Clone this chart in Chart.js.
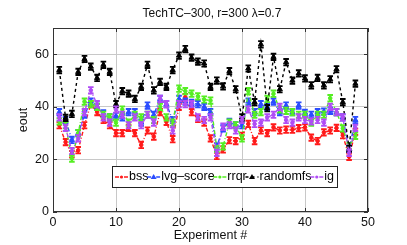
<!DOCTYPE html>
<html>
<head>
<meta charset="utf-8">
<script src="https://cdn.jsdelivr.net/npm/chart.js@4/dist/chart.umd.min.js"></script>
<style>
  html, body { margin: 0; padding: 0; background: #fff; }
  #wrap { width: 407px; height: 245px; }
</style>
</head>
<body>
<div id="wrap"><canvas id="c"></canvas></div>
<script>
/* ----- data ----- */
const experiments = [1,2,3,4,5,6,7,8,9,10,11,12,13,14,15,16,17,18,19,20,21,22,23,24,
                     25,26,27,28,29,30,31,32,33,34,35,36,37,38,39,40,41,42,43,44,45,46,47,48];

const bss      = [33,26.6,22,23.5,33,41,38,35,33,30,30,32,30,25.5,31,28.7,38,34.3,27.7,40,43.7,38,35.4,34,
                  28,21.3,23.8,27.3,27,29,33.5,27,31,30,32.2,31,31.3,31.3,31.9,32.2,28.3,27,30.3,31,32,29.2,21,30.5];
const lvgScore = [38,35,27.4,30,37,42,40,37.5,36,36.5,36,38,38,34,40.5,37,43,41,35,43,42,41.5,41,40,
                  38,25,31.8,34.3,33,33,42,38,41,40,42,38,40.5,38,40.5,37.7,37,38,38.2,38.5,38,36,24,35];
const rrqr     = [34.5,33,20.3,30,42,41,40,37,36,34,39,34,37,36,37,35,40,36,34,46.9,46,45,44,42.8,
                  42.4,24,25,34,33,28,46,37,38,43,45,39,38.5,38,37,37,34,37,37,43.3,38,31.8,25,29];
const randomfs = [54,35.8,37.3,53.3,58.2,55.3,51,56,53.3,41,46,45,43,47.6,56,46.3,49.5,47.6,54,59.5,62,58.7,57.2,56.5,
                  47.6,50,47.8,53.6,46.7,36,54.6,41.8,63.8,39.5,59,46.7,57,50,52.7,50.8,48.2,51,48.2,50.5,54.3,41.8,24,48.8];
const ig       = [36,32,23.2,28,38,46.3,41,36,34,39,37,33,36,33,37,34,43,41,31,41,41,41,36,35,
                  36,22.5,32.5,33,31,35,39,33.5,34,36,37,40,35,34,36,35,34.5,35,34,40,38,36,22.5,32];

const seriesNames = ['bss', 'lvg\u2013score', 'rrqr', 'randomfs', 'ig'];
const errHalf     = [1.2, 1.2, 1.2, 1.2, 1.2];   // error bar half height per series
const xTicks = [0, 10, 20, 30, 40, 50];
const yTicks = [0, 20, 40, 60];

/* ----- styles ----- */
const colors = ['#ff1a1a', '#2a4cff', '#55ee22', '#000000', '#b04cf5'];
const dashes = [[4,2,1,2], [4,2,1,2], [4,2,1,2], [3,3], [4,2,1,2]];
const marks  = ['circle', 'triangle', 'circle', 'triangle', 'circle'];
const FONT = '"Liberation Sans", Arial, sans-serif';

const values = [bss, lvgScore, rrqr, randomfs, ig];
const datasets = values.map((vals, k) => ({
  label: seriesNames[k],
  data: experiments.map((x, i) => ({x, y: vals[i]})),
  errors: errHalf[k],
  borderColor: colors[k],
  backgroundColor: colors[k],
  borderWidth: 1.4,
  borderDash: dashes[k],
  pointStyle: marks[k],
  pointRadius: marks[k] === 'triangle' ? 3 : 1.8,
  pointBorderWidth: 1,
  tension: 0,
  order: 4 - k
}));

/* error bars, drawn right after each dataset so layering follows it */
const errorBars = {
  id: 'errorBars',
  afterDatasetDraw(chart, args) {
    const ds = chart.data.datasets[args.index];
    const ys = chart.scales.y, ctx = chart.ctx;
    ctx.save();
    ctx.strokeStyle = ds.borderColor;
    ctx.lineWidth = 1.9;
    ctx.setLineDash([]);
    args.meta.data.forEach((pt, i) => {
      const v = ds.data[i].y;
      const top = ys.getPixelForValue(v + ds.errors);
      const bot = ys.getPixelForValue(v - ds.errors);
      ctx.beginPath();
      ctx.moveTo(pt.x, top); ctx.lineTo(pt.x, bot);
      ctx.moveTo(pt.x - 2.8, top); ctx.lineTo(pt.x + 2.8, top);
      ctx.moveTo(pt.x - 2.8, bot); ctx.lineTo(pt.x + 2.8, bot);
      ctx.stroke();
    });
    ctx.restore();
  }
};

function drawMark(ctx, style, x, y, color) {
  ctx.fillStyle = color;
  ctx.beginPath();
  if (style === 'triangle') {
    ctx.moveTo(x, y - 3); ctx.lineTo(x + 3, y + 2); ctx.lineTo(x - 3, y + 2);
    ctx.closePath();
  } else {
    ctx.arc(x, y, 1.6, 0, Math.PI * 2);
  }
  ctx.fill();
}

/* box, inward ticks, titles and the legend inside the axes */
const decorations = {
  id: 'decorations',
  afterDraw(chart) {
    const ctx = chart.ctx, a = chart.chartArea;
    const xs = chart.scales.x, ys = chart.scales.y;
    ctx.save();
    ctx.setLineDash([]);
    ctx.strokeStyle = '#333';
    ctx.lineWidth = 1;
    ctx.strokeRect(a.left + 0.5, a.top + 0.5, a.right - a.left - 1, a.bottom - a.top - 1);
    ctx.beginPath();
    xTicks.forEach(t => {
      const px = Math.round(xs.getPixelForValue(t)) + 0.5;
      ctx.moveTo(px, a.bottom); ctx.lineTo(px, a.bottom - 4);
      ctx.moveTo(px, a.top);    ctx.lineTo(px, a.top + 4);
    });
    yTicks.forEach(t => {
      const py = Math.round(ys.getPixelForValue(t)) + 0.5;
      ctx.moveTo(a.left, py);  ctx.lineTo(a.left + 4, py);
      ctx.moveTo(a.right, py); ctx.lineTo(a.right - 4, py);
    });
    ctx.stroke();

    ctx.fillStyle = '#111';
    ctx.font = '12px ' + FONT;
    ctx.textAlign = 'center';
    ctx.textBaseline = 'middle';
    ctx.fillText('TechTC\u2013300, r=300 \u03bb=0.7', 212, 14);
    ctx.font = '12.5px ' + FONT;
    ctx.fillText('Experiment #', (a.left + a.right) / 2, 236);
    ctx.save();
    ctx.translate(24, 120);
    ctx.rotate(-Math.PI / 2);
    ctx.fillText('eout', 0, 0);
    ctx.restore();

    // legend
    const bx = 112, by = 166, bw = 225, bh = 21;
    ctx.fillStyle = '#fff';
    ctx.fillRect(bx, by, bw, bh);
    ctx.strokeStyle = '#222';
    ctx.strokeRect(bx + 0.5, by + 0.5, bw, bh);
    ctx.font = '12.5px ' + FONT;
    ctx.textAlign = 'left';
    const sampleW = 13, gap = 1, pad = 3;
    const widths = seriesNames.map(n => ctx.measureText(n).width);
    const used = widths.reduce((s, w) => s + w + sampleW + gap, 0);
    const space = (bw - 2 * pad - used) / (seriesNames.length - 1);
    let x = bx + pad;
    const cy = by + bh / 2 + 0.5;
    seriesNames.forEach((n, k) => {
      ctx.strokeStyle = colors[k];
      ctx.lineWidth = 1.4;
      ctx.setLineDash(dashes[k]);
      ctx.beginPath();
      ctx.moveTo(x, cy); ctx.lineTo(x + sampleW, cy);
      ctx.stroke();
      ctx.setLineDash([]);
      drawMark(ctx, marks[k], x + sampleW / 2, cy, colors[k]);
      ctx.fillStyle = '#000';
      ctx.fillText(n, x + sampleW + gap, cy);
      x += sampleW + gap + widths[k] + space;
    });
    ctx.restore();
  }
};

new Chart(document.getElementById('c'), {
  type: 'line',
  data: { datasets },
  plugins: [errorBars, decorations],
  options: {
    responsive: true,
    maintainAspectRatio: false,
    animation: false,
    devicePixelRatio: 1,
    layout: { padding: { left: 0, top: 28, right: 39, bottom: 0 } },
    plugins: { legend: { display: false }, title: { display: false }, tooltip: { enabled: false } },
    scales: {
      x: {
        type: 'linear', min: 0, max: 50,
        afterBuildTicks: s => { s.ticks = xTicks.map(v => ({value: v})); },
        afterFit: s => { s.height = 33; },
        grid: { color: '#c8c8c8', borderDash: [1, 2], drawTicks: false },
        border: { display: false },
        ticks: { color: '#111', padding: 3, font: { size: 12.5, family: FONT } }
      },
      y: {
        type: 'linear', min: 0, max: 70,
        afterBuildTicks: s => { s.ticks = yTicks.map(v => ({value: v})); },
        afterFit: s => { s.width = 53; },
        grid: { color: '#c8c8c8', borderDash: [1, 2], drawTicks: false },
        border: { display: false },
        ticks: { color: '#111', padding: 4, font: { size: 12.5, family: FONT } }
      }
    }
  }
});
</script>
</body>
</html>
